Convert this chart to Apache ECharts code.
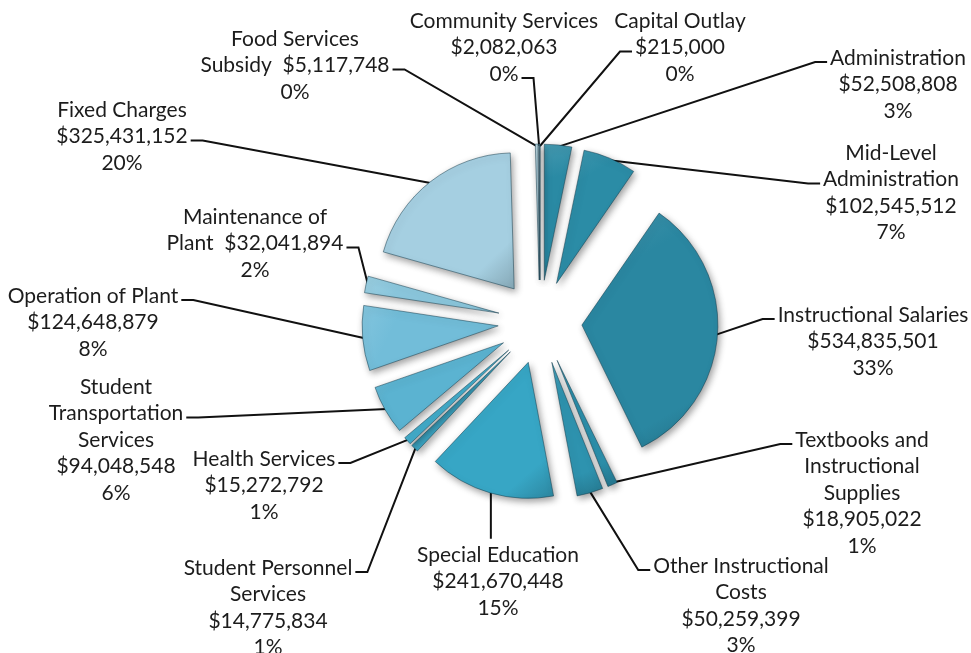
<!DOCTYPE html>
<html>
<head>
<meta charset="utf-8">
<script src="https://cdn.jsdelivr.net/npm/echarts@6/dist/echarts.min.js"></script>
<style>
  html, body { margin: 0; padding: 0; background: #ffffff; }
  #chart { width: 971px; height: 653px; }
</style>
</head>
<body>
<div id="chart"></div>
<script>
// Budget categories, clockwise from twelve o'clock ("\n" marks where a label wraps)
const categories = [
  'Administration',
  'Mid-Level\nAdministration',
  'Instructional Salaries',
  'Textbooks and\nInstructional\nSupplies',
  'Other Instructional\nCosts',
  'Special Education',
  'Student Personnel\nServices',
  'Health Services',
  'Student\nTransportation\nServices',
  'Operation of Plant',
  'Maintenance of\nPlant',
  'Fixed Charges',
  'Food Services\nSubsidy',
  'Community Services',
  'Capital Outlay'
];

// Amounts in dollars
const amounts = [
  52508808,
  102545512,
  534835501,
  18905022,
  50259399,
  241670448,
  14775834,
  15272792,
  94048548,
  124648879,
  32041894,
  325431152,
  5117748,
  2082063,
  215000
];

// Share of the total as printed on each label
const shareLabels = ['3%', '7%', '33%', '1%', '3%', '15%', '1%', '1%',
                     '6%', '8%', '2%', '20%', '0%', '0%', '0%'];

// Slice base colours
const sliceColors = [
  '#2a8aa4', '#2b8ca6', '#2a87a1', '#2c90ac', '#2e93af',
  '#37a6c5', '#3ca5c3', '#42aac8', '#5bb3d1', '#72bdd9',
  '#8bc7dd', '#a5cfe1', '#b2d3df', '#a9c6d1', '#9dbac5'
];

// Label placement: centre x of the text block, centre y of its first line
const labelX = [898, 891, 873, 862, 741, 498, 268, 264, 116, 93, 255, 122, 295, 504, 680];
const labelY = [58, 153, 315, 440, 566, 555, 568, 459, 387, 296, 217, 110, 39, 21, 21];
// Side of the text where the leader line arrives, and the text line it meets
const leaderSide = ['left', 'left', 'left', 'left', 'left', 'top', 'right', 'right',
                    'right', 'right', 'right', 'right', 'right', 'right', 'left'];
const leaderRow = [0, 1, 0, 0, 0, 0, 0, 0, 1, 0, 1, 1, 1, 2, 1];
// Labels whose dollar amount sits on the last line of the name
const valueInline = [false, false, false, false, false, false, false, false,
                     false, false, true, false, true, false, false];

const FONT_SIZE = 21;
const LINE_H = 26.5;
const FONT_FAMILY = 'Lato';
const CENTER = [540, 322];
const RADIUS = 136;
const EXPLODE = 42;

function money(v) {
  return '$' + v.toLocaleString('en-US');
}

function labelText(i) {
  const sep = valueInline[i] ? '  ' : '\n';
  return categories[i] + sep + money(amounts[i]) + '\n' + shareLabels[i];
}

function mix(hex, target, t) {
  const n = parseInt(hex.slice(1), 16);
  const r = (n >> 16) & 255, g = (n >> 8) & 255, b = n & 255;
  const m = c => Math.round(c + (target - c) * t);
  return 'rgb(' + m(r) + ',' + m(g) + ',' + m(b) + ')';
}

function sliceFill(hex) {
  return {
    type: 'linear', x: 0, y: 0, x2: 1, y2: 1,
    colorStops: [
      { offset: 0, color: mix(hex, 255, 0.12) },
      { offset: 0.25, color: hex },
      { offset: 0.8, color: hex },
      { offset: 1, color: mix(hex, 0, 0.2) }
    ]
  };
}

const measureCtx = document.createElement('canvas').getContext('2d');
measureCtx.font = FONT_SIZE + 'px ' + FONT_FAMILY;

const chart = echarts.init(document.getElementById('chart'), null, { renderer: 'canvas' });

// Places a label block and routes its leader line to the exploded slice
function placeLabel(params) {
  const i = params.dataIndex;
  const lines = labelText(i).split('\n');
  const top = labelY[i] - LINE_H / 2;

  const layout = chart.getModel().getSeriesByIndex(params.seriesIndex).getData().getItemLayout(i);
  const mid = (layout.startAngle + layout.endAngle) / 2;
  const rr = layout.r + EXPLODE - 2;
  const sx = layout.cx + rr * Math.cos(mid);
  const sy = layout.cy + rr * Math.sin(mid);

  let pts;
  if (leaderSide[i] === 'top') {
    pts = [[sx, sy], [sx, (sy + top) / 2], [sx, top - 3]];
  } else {
    const w = measureCtx.measureText(lines[leaderRow[i]]).width;
    const ay = top + LINE_H * (leaderRow[i] + 0.5) + 4;
    const dir = leaderSide[i] === 'left' ? -1 : 1;
    const ax = labelX[i] + dir * (w / 2 + 3);
    pts = [[sx, sy], [ax + dir * 12, ay], [ax, ay]];
  }

  return {
    x: labelX[i],
    y: top,
    align: 'center',
    verticalAlign: 'top',
    labelLinePoints: pts
  };
}

const pieData = categories.map((name, i) => ({ name: name, value: amounts[i] }));

chart.setOption({
  animation: false,
  backgroundColor: '#ffffff',
  series: [
    {
      // exploded slices
      type: 'pie',
      center: CENTER,
      radius: RADIUS,
      startAngle: 90,
      clockwise: true,
      selectedMode: 'multiple',
      selectedOffset: EXPLODE,
      silent: true,
      emphasis: { disabled: true },
      data: pieData.map((d, i) => ({
        name: d.name,
        value: d.value,
        selected: true,
        itemStyle: { color: sliceFill(sliceColors[i]) }
      })),
      itemStyle: {
        borderColor: 'rgba(20,60,75,0.5)',
        borderWidth: 1,
        shadowBlur: 7,
        shadowColor: 'rgba(0,0,0,0.38)',
        shadowOffsetX: 2,
        shadowOffsetY: 3
      },
      select: {
        itemStyle: { borderColor: 'rgba(20,60,75,0.5)', borderWidth: 1 }
      },
      label: { show: false },
      labelLine: { show: false }
    },
    {
      // data labels with leader lines
      type: 'pie',
      center: CENTER,
      radius: RADIUS,
      startAngle: 90,
      clockwise: true,
      silent: true,
      selectedMode: false,
      avoidLabelOverlap: false,
      emphasis: { disabled: true },
      data: pieData,
      itemStyle: { color: 'rgba(0,0,0,0)', borderWidth: 0 },
      label: {
        show: true,
        position: 'outer',
        formatter: p => labelText(p.dataIndex),
        fontFamily: FONT_FAMILY,
        fontSize: FONT_SIZE,
        lineHeight: LINE_H,
        color: '#1c1c1c',
        align: 'center'
      },
      labelLine: {
        show: true,
        length: 10,
        length2: 10,
        lineStyle: { color: '#111111', width: 2 }
      },
      labelLayout: placeLabel
    }
  ]
});
</script>
</body>
</html>
